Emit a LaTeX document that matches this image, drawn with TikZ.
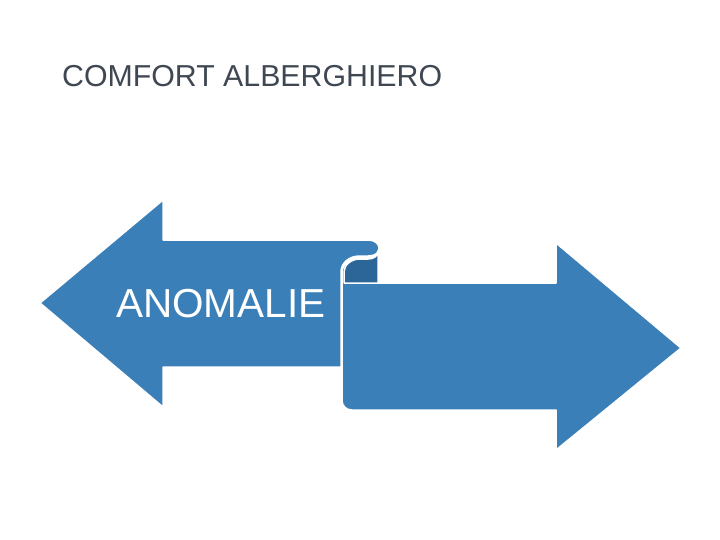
\documentclass[tikz,border=0pt]{standalone}
\usepackage{fontspec}
\setmainfont{Liberation Sans}
\definecolor{arrowblue}{RGB}{58,127,184}
\definecolor{rolldark}{RGB}{44,102,152}
\definecolor{titlegray}{RGB}{63,72,82}
\begin{document}
\begin{tikzpicture}[x=1pt,y=-1pt,
  shapeblue/.style={fill=arrowblue,draw=white,line width=1.5pt,line join=round},
  rollpart/.style={fill=rolldark,draw=white,line width=1.5pt,line join=round}]
\useasboundingbox (0,0) rectangle (720,540);
% left arrow
\path[shapeblue] (40,303) -- (163,200) -- (163,240) -- (368,240)
  .. controls (375,240) and (379,244) .. (379,248)
  .. controls (379,253) and (375,256) .. (368,256) -- (360,256)
  .. controls (349,256) and (341,263) .. (341,272) -- (341,367)
  -- (163,367) -- (163,407) -- cycle;
% right arrow
\path[shapeblue] (342,272) .. controls (342,265) and (350,259) .. (360,259) -- (368,259)
  .. controls (374,259) and (378,256) .. (378,251) -- (378,283) -- (556,283) -- (556,243)
  -- (681,348) -- (556,450) -- (556,410) -- (352,410)
  .. controls (346,410) and (342,406) .. (342,400) -- cycle;
% rolled part
\path[rollpart] (344,283) -- (344,272) .. controls (344,265) and (351,259) .. (360,259) -- (368,259)
  .. controls (374,259) and (378,256) .. (378,251) -- (378,283) -- cycle;
\node[anchor=base west,inner sep=0pt,text=titlegray,font=\fontsize{30.3}{34}\selectfont] (title) at (62,87) {COMFORT ALBERGHIERO};
\node[anchor=base west,inner sep=0pt,text=white,font=\fontsize{40.5}{46}\selectfont] (anom) at (116,317) {ANOMALIE};
\end{tikzpicture}
\end{document}
